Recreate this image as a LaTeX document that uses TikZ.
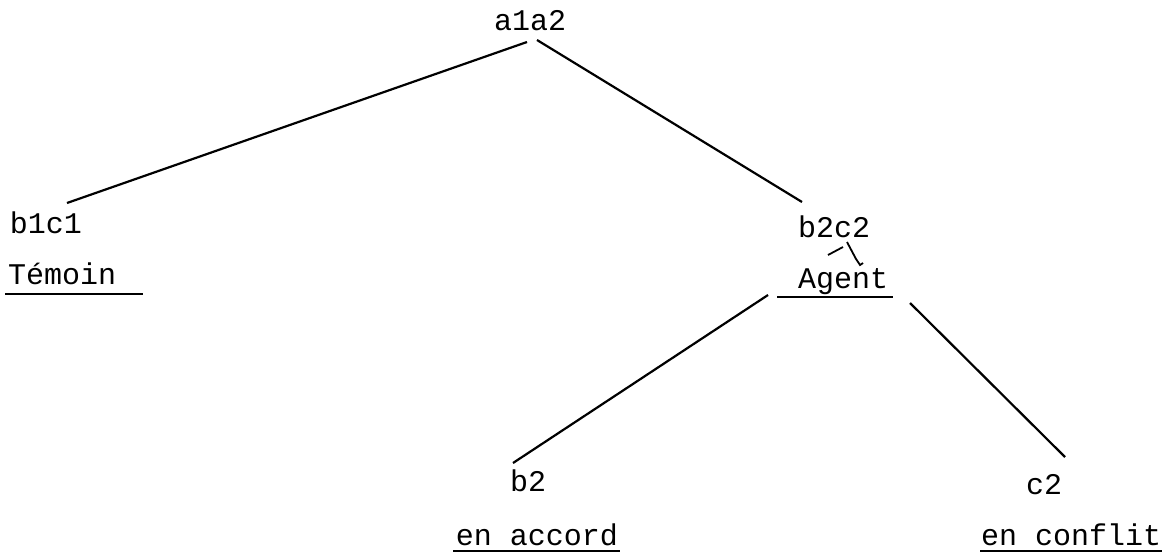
\documentclass[tikz,border=0pt]{standalone}
\usepackage{fontspec}
\setmonofont{Liberation Mono}
\begin{document}
\begin{tikzpicture}[x=1pt,y=-1pt,
  lbl/.style={font=\ttfamily\fontsize{30}{30}\selectfont, inner sep=0pt, anchor=base},
  edge/.style={line width=2.2pt},
  uline/.style={line width=2.6pt}]
\useasboundingbox (0,0) rectangle (1166,554);

% tree nodes
\node[lbl] (top)    at (530,30)  {a1a2};
\node[lbl] (b1c1)   at (46,233)  {b1c1};
\node[lbl, anchor=base west] (temoin) at (8,284) {Témoin};
\node[lbl] (b2c2)   at (834,237) {b2c2};
\node[lbl] (agent)  at (843,288) {Agent};
\node[lbl] (b2)     at (528,491) {b2};
\node[lbl] (c2)     at (1044,494) {c2};
\node[lbl] (accord) at (537,545) {en accord};
\node[lbl] (conflit) at (1071,545) {en conflit};

% branches
\draw[edge] ([shift={(-3,12)}]top.base) -- ([shift={(21,-30)}]b1c1.base);
\draw[edge] ([shift={(7,10)}]top.base) -- ([shift={(-32,-35)}]b2c2.base);
\draw[edge] ([shift={(-75,7)}]agent.base) -- ([shift={(-15,-28)}]b2.base);
\draw[edge] ([shift={(67,15)}]agent.base) -- ([shift={(21,-37)}]c2.base);

% correction mark between b2c2 and Agent
\draw[line width=1.8pt] ([shift={(-6,18)}]b2c2.base) -- ([shift={(9,10)}]b2c2.base);
\draw[line width=1.8pt] ([shift={(13,5)}]b2c2.base) -- ([shift={(22,22)}]b2c2.base)
  -- ([shift={(26,28)}]b2c2.base) -- ([shift={(29,26)}]b2c2.base);

% underlines
\draw[uline] ([shift={(-3,10)}]temoin.base west) -- ([shift={(135,10)}]temoin.base west);
\draw[uline] ([shift={(-66,9)}]agent.base) -- ([shift={(50,9)}]agent.base);
\draw[uline] ([shift={(-84,6)}]accord.base) -- ([shift={(83,6)}]accord.base);
\draw[uline] ([shift={(-91,6)}]conflit.base) -- ([shift={(91,6)}]conflit.base);
\end{tikzpicture}
\end{document}
